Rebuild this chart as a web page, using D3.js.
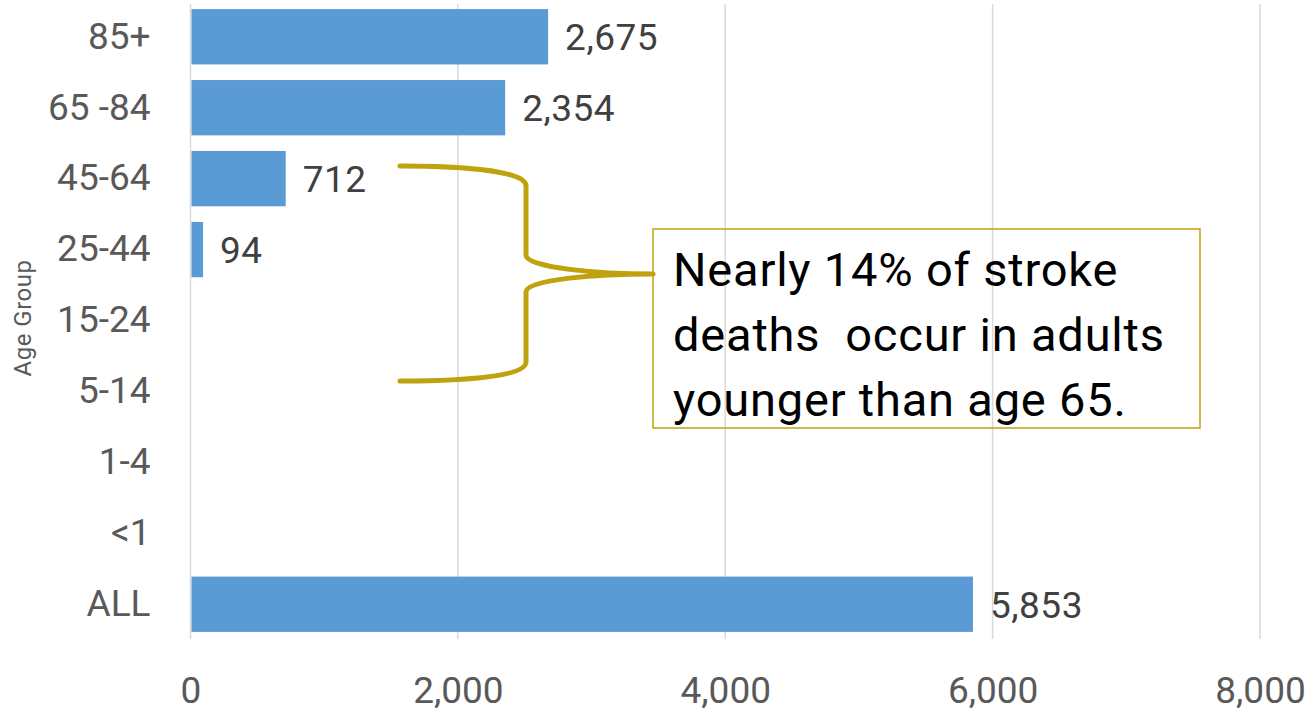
<!DOCTYPE html>
<html>
<head>
<meta charset="utf-8">
<script src="https://cdn.jsdelivr.net/npm/d3@7"></script>
<style>
  body { margin: 0; background: #fff; }
  text { font-family: Roboto, "Open Sans", sans-serif; }
</style>
</head>
<body>
<div id="chart"></div>
<script>
// data
var ageGroups = ["85+", "65 -84", "45-64", "25-44", "15-24", "5-14", "1-4", "<1", "ALL"];
var deaths = [2675, 2354, 712, 94, null, null, null, null, 5853];
var xTicks = [0, 2000, 4000, 6000, 8000];
var noteLines = ["Nearly 14% of stroke", "deaths  occur in adults", "younger than age 65."];

function main() {
    var canvasWidth = 1313;
    var canvasHeight = 716;

    var svg = d3.select("#chart").append("svg")
        .attr("width", canvasWidth)
        .attr("height", canvasHeight);

    var rows = ageGroups.map(function(g, i) { return { group: g, value: deaths[i] }; });

    var xScale = d3.scaleLinear().domain([0, 8000]).range([190.5, 1260]);
    var yScale = d3.scaleBand().domain(ageGroups).range([2, 639])
        .paddingInner(0.22).paddingOuter(0.1);

    // gridlines
    svg.append("g").selectAll("line")
        .data(xTicks)
        .enter().append("line")
        .attr("x1", function(d) { return xScale(d); })
        .attr("x2", function(d) { return xScale(d); })
        .attr("y1", 4)
        .attr("y2", 639)
        .attr("stroke", "#d9d9d9")
        .attr("stroke-width", 1.5);

    // bars
    var withData = rows.filter(function(d) { return d.value != null; });
    svg.append("g").selectAll("rect")
        .data(withData)
        .enter().append("rect")
        .attr("x", xScale(0) + 1)
        .attr("y", function(d) { return yScale(d.group); })
        .attr("width", function(d) { return xScale(d.value) - xScale(0) - 1; })
        .attr("height", yScale.bandwidth())
        .attr("fill", "#5b9bd5");

    // value labels
    svg.append("g").selectAll("text")
        .data(withData)
        .enter().append("text")
        .attr("x", function(d) { return xScale(d.value) + 17; })
        .attr("y", function(d) { return yScale(d.group) + yScale.bandwidth() / 2; })
        .attr("dy", "0.36em")
        .attr("font-size", "37px")
        .attr("letter-spacing", "0.5px")
        .attr("fill", "#404040")
        .text(function(d) { return d3.format(",")(d.value); });

    // y axis
    var yAxis = svg.append("g")
        .attr("transform", "translate(190.5,0)")
        .call(d3.axisLeft(yScale).tickSize(0).tickPadding(40));
    yAxis.select(".domain").remove();
    yAxis.selectAll("text")
        .attr("font-size", "37px")
        .attr("fill", "#595959")
        .attr("font-family", "Roboto, sans-serif");

    // x axis
    var xAxis = svg.append("g")
        .attr("transform", "translate(0,639)")
        .call(d3.axisBottom(xScale).tickValues(xTicks).tickFormat(d3.format(",")).tickSize(0).tickPadding(38));
    xAxis.select(".domain").remove();
    xAxis.selectAll("text")
        .attr("font-size", "37px")
        .attr("fill", "#595959")
        .attr("font-family", "Roboto, sans-serif");

    // axis title
    svg.append("text")
        .attr("transform", "translate(31,318) rotate(-90)")
        .attr("text-anchor", "middle")
        .attr("font-size", "24px")
        .attr("letter-spacing", "0.5px")
        .attr("fill", "#595959")
        .text("Age Group");

    // brace annotation
    var gold = "#c0a20e";
    var brace = d3.path();
    brace.moveTo(400, 166);
    brace.bezierCurveTo(470, 166, 526, 172, 526, 186);
    brace.lineTo(526, 255);
    brace.bezierCurveTo(526, 268, 600, 274, 653, 274);
    brace.bezierCurveTo(600, 274, 526, 279, 526, 292);
    brace.lineTo(526, 362);
    brace.bezierCurveTo(526, 376, 470, 381, 400, 381);
    svg.append("path")
        .attr("d", brace.toString())
        .attr("fill", "none")
        .attr("stroke", gold)
        .attr("stroke-width", 5)
        .attr("stroke-linecap", "round")
        .attr("stroke-linejoin", "round");

    svg.append("rect")
        .attr("x", 653)
        .attr("y", 229)
        .attr("width", 547)
        .attr("height", 199)
        .attr("fill", "none")
        .attr("stroke", gold)
        .attr("stroke-width", 1.5);

    svg.append("g").selectAll("text")
        .data(noteLines)
        .enter().append("text")
        .attr("x", 673)
        .attr("y", function(d, i) { return 286 + i * 65; })
        .attr("font-size", "47px")
        .attr("letter-spacing", "0.8px")
        .attr("fill", "#000")
        .style("white-space", "pre")
        .text(function(d) { return d; });
}

main();
</script>
</body>
</html>
